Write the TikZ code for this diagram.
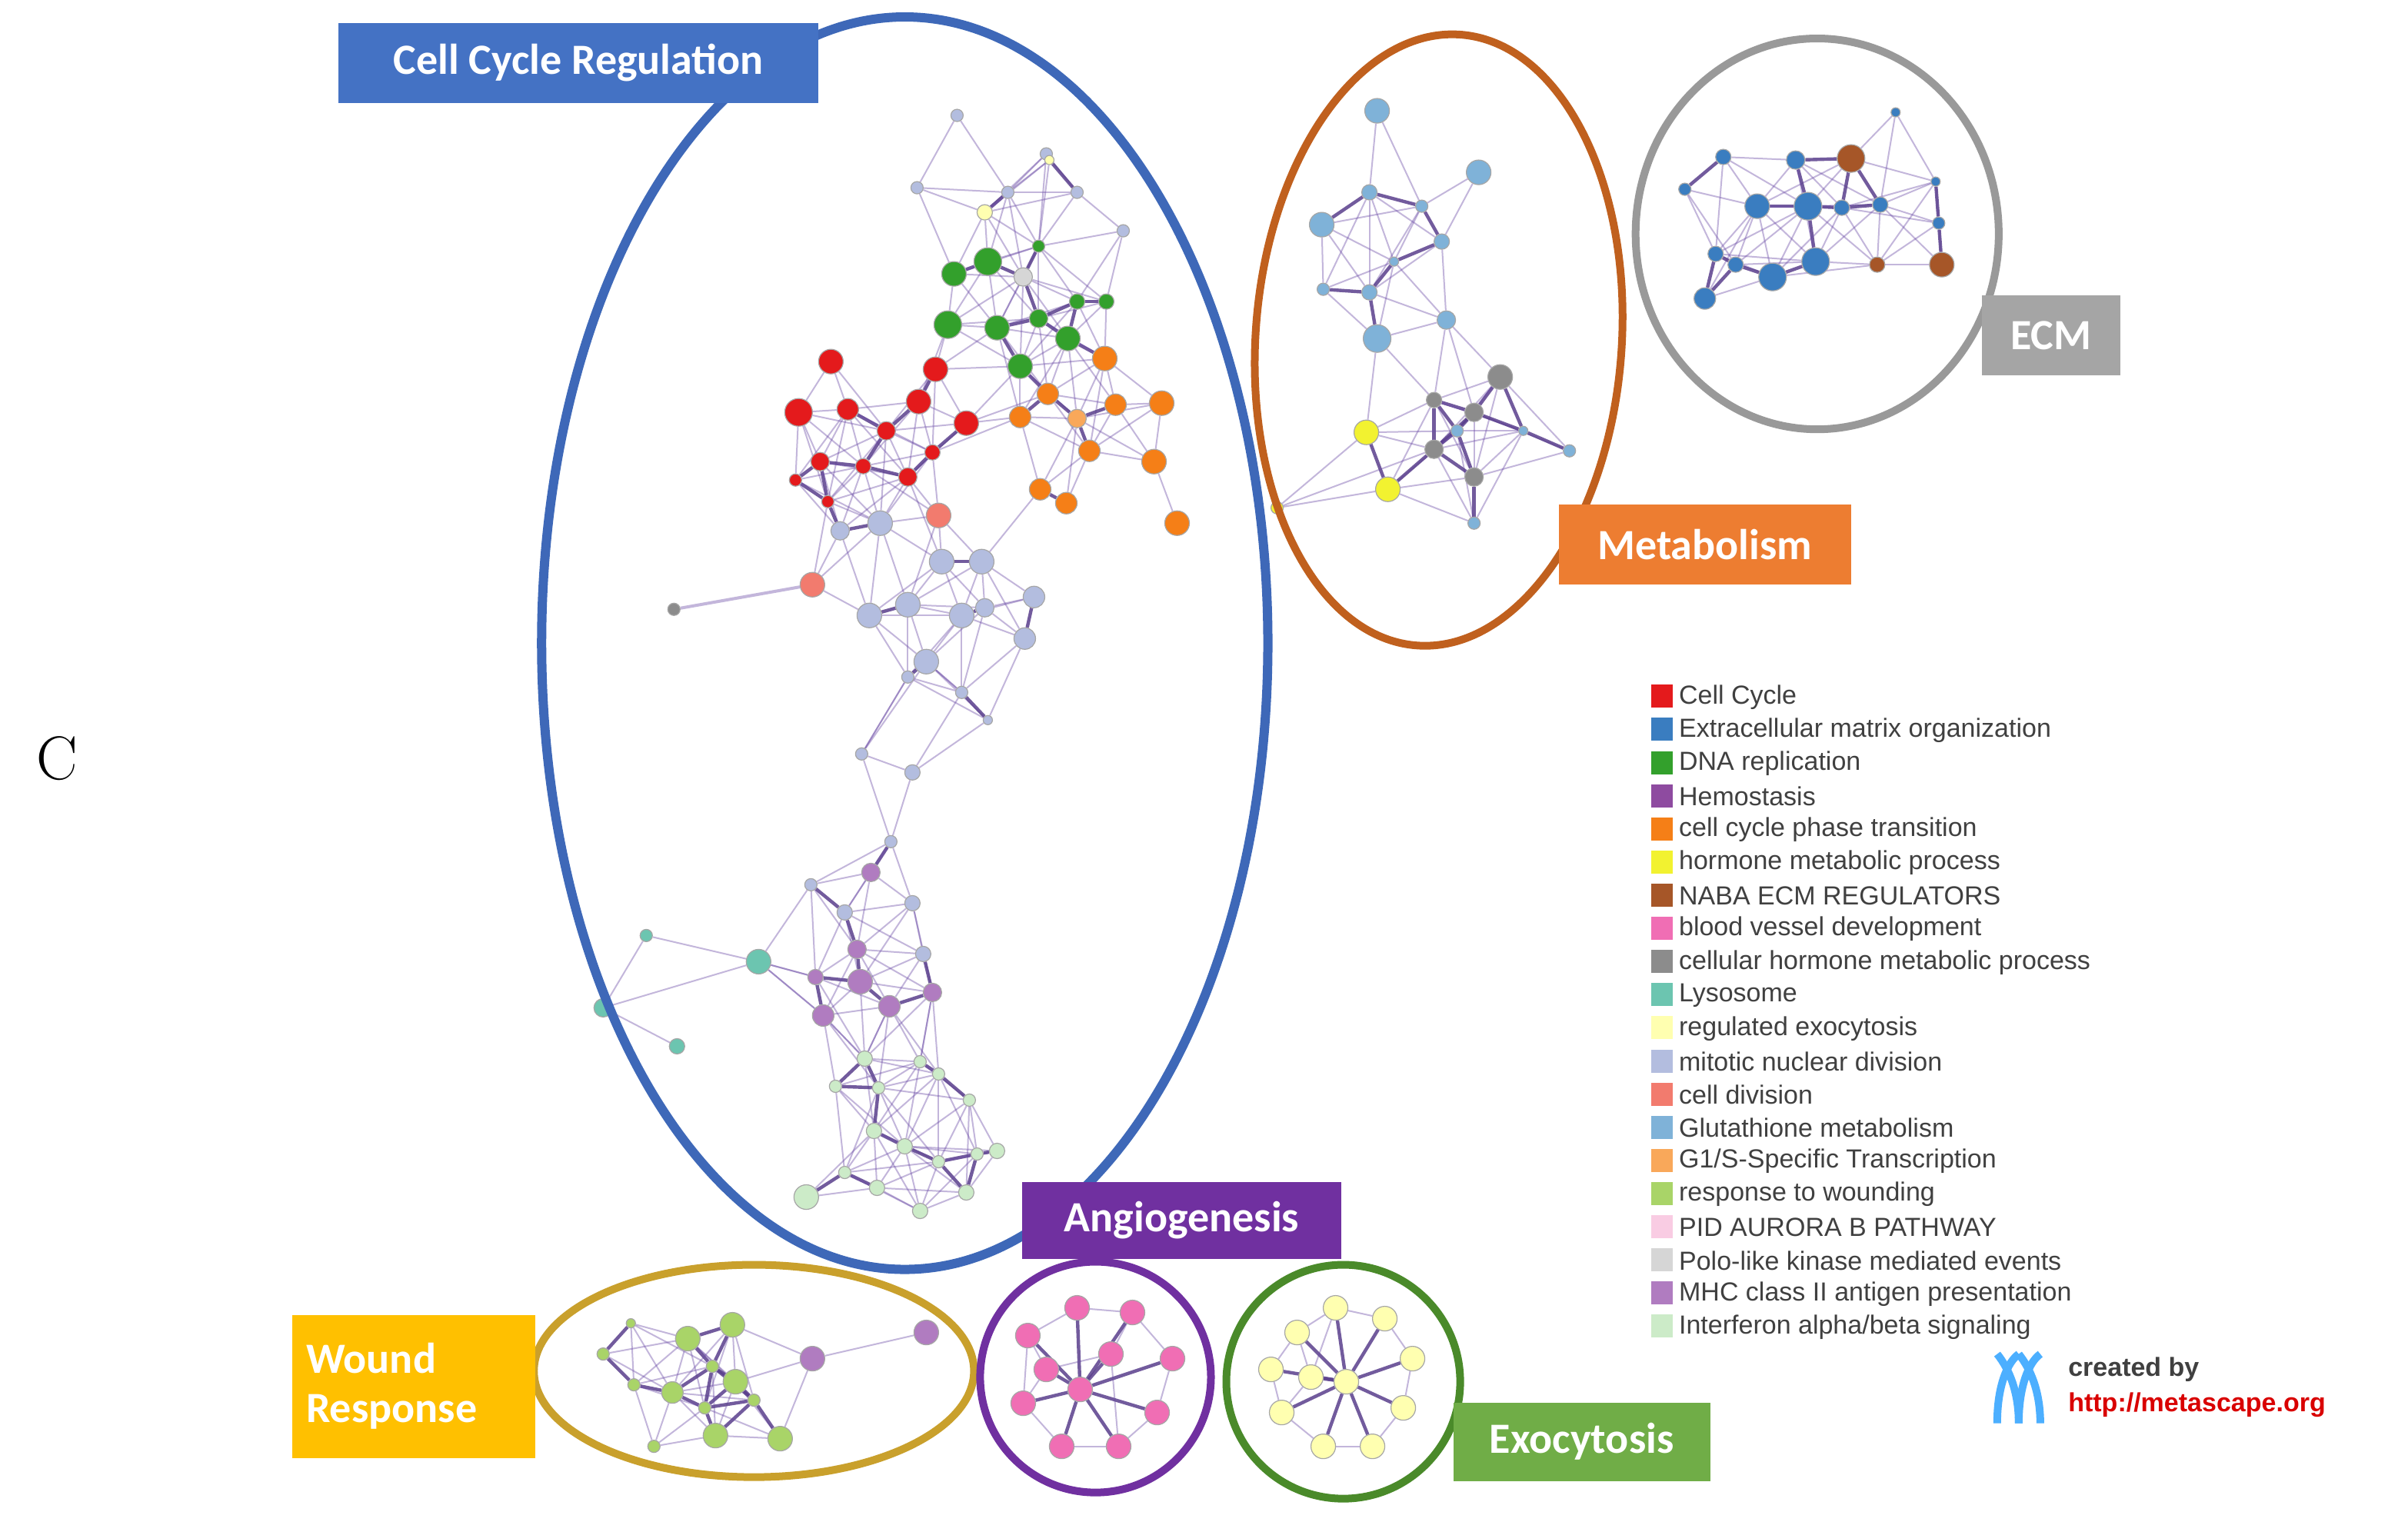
\documentclass[tikz,border=0pt]{standalone}
\usepackage{fontspec}
\newfontfamily\carl{Carlito}
\newfontfamily\lib{Liberation Sans}
\pgfdeclarelayer{bg}\pgfsetlayers{bg,main}
\definecolor{cA}{HTML}{E41A1C}\definecolor{cB}{HTML}{3A7DC0}\definecolor{cC}{HTML}{33A02C}
\definecolor{cD}{HTML}{8E4BA0}\definecolor{cE}{HTML}{F57F17}\definecolor{cF}{HTML}{F2F230}
\definecolor{cG}{HTML}{A65628}\definecolor{cH}{HTML}{F06EB4}\definecolor{cI}{HTML}{8C8C8C}
\definecolor{cJ}{HTML}{6CC5B0}\definecolor{cK}{HTML}{FFFFB0}\definecolor{cL}{HTML}{B3BDDF}
\definecolor{cM}{HTML}{F27B6E}\definecolor{cN}{HTML}{7FB2D8}\definecolor{cO}{HTML}{F9A85A}
\definecolor{cP}{HTML}{A9D468}\definecolor{cQ}{HTML}{F9CCE3}\definecolor{cR}{HTML}{D6D6D6}
\definecolor{cS}{HTML}{B07CC0}\definecolor{cT}{HTML}{CCEBC8}
\definecolor{eblue}{HTML}{3E68B8}\definecolor{eorange}{HTML}{C0601E}\definecolor{egold}{HTML}{C9A02C}
\definecolor{epurple}{HTML}{7030A0}\definecolor{egreen}{HTML}{4A8A2A}
\definecolor{lblue}{HTML}{4472C4}\definecolor{lorange}{HTML}{ED7D31}\definecolor{lgray}{HTML}{A5A5A5}
\definecolor{lgold}{HTML}{FFC000}\definecolor{lgreen}{HTML}{70AD47}\definecolor{edgec}{HTML}{6A4AA6}
\tikzset{
 nd/.style={circle,inner sep=0pt,draw=black!35,line width=0.6pt},
 grp/.style={line width=5pt},
 tag/.style={inner sep=0pt,text=white,font=\carl\bfseries\fontsize{28}{30}\selectfont,align=left},
 edg/.style={draw=edgec,line width=1pt,opacity=0.4},
 edgs/.style={draw=edgec!85!black,line width=2.2pt,opacity=0.85},
 leg/.style={anchor=west,inner sep=0pt,font=\lib\fontsize{17}{19}\selectfont,text=black!75},
}
\def\clA{a1/540/235/8/cA,a2/519/268/9/cA,a3/551/266/7/cA,a4/608/240/8/cA,a5/597/261/8/cA,a6/628/275/8/cA,a7/576/280/6/cA,a8/533/300/6/cA,a9/561/303/5/cA,a10/590/310/6/cA,a11/517/312/4/cA,a12/538/326/4/cA,a13/606/294/5/cA,
g1/642/170/9/cC,g2/620/178/8/cC,g3/616/211/9/cC,g4/648/213/8/cC,g5/663/238/8/cC,g6/694/220/8/cC,g7/675/207/6/cC,g8/700/196/5/cC,g9/719/196/5/cC,g10/665/180/6/cR,g11/675/160/4/cC,
o1/718/233/8/cE,o2/681/256/7/cE,o3/663/271/7/cE,o4/725/263/7/cE,o5/755/262/8/cE,o6/708/293/7/cE,o7/750/300/8/cE,o8/676/318/7/cE,o9/693/327/7/cE,o10/765/340/8/cE,o11/700/272/6/cO,
m1/572/340/8/cL,m2/638/365/8/cL,m3/612/365/8/cL,m4/565/400/8/cL,m5/590/393/8/cL,m6/625/400/8/cL,m7/672/388/7/cL,m8/666/415/7/cL,m9/602/430/8/cL,m10/640/395/6/cL,m11/546/345/6/cL,m12/625/450/4/cL,m13/642/468/3/cL,m14/590/440/4/cL,
s1/610/335/8/cM,s2/528/380/8/cM,
t1/622/75/4/cL,t2/596/122/4/cL,t3/680/100/4/cL,t4/700/125/4/cL,t5/655/125/4/cL,t6/640/138/5/cK,t7/730/150/4/cL,t8/682/104/3/cK,
h1/560/490/4/cL,h2/593/502/5/cL,h3/579/547/4/cL,h4/566/567/6/cS,h5/527/575/4/cL,h6/593/587/5/cL,h7/549/593/5/cL,h8/530/635/5/cS,h9/600/620/5/cL,h10/557/617/6/cS,h11/559/638/8/cS,h12/578/654/7/cS,h13/535/660/7/cS,h14/606/645/6/cS,
i1/562/688/5/cT,i2/598/690/4/cT,i3/543/706/4/cT,i4/571/707/4/cT,i5/610/698/4/cT,i6/630/715/4/cT,i7/568/735/5/cT,i8/588/745/5/cT,i9/610/755/4/cT,i10/635/750/4/cT,i11/648/748/5/cT,i12/549/762/4/cT,i13/570/772/5/cT,i14/598/787/5/cT,i15/628/775/5/cT,i16/524/778/8/cT,
y1/420/608/4/cJ,y2/493/625/8/cJ,y3/392/655/6/cJ,y4/440/680/5/cJ}
\def\clB{b1/895/72/8/cN,b2/961/112/8/cN,b3/859/146/8/cN,b4/890/125/5/cN,b5/924/134/4/cN,b6/937/157/5/cN,b7/906/170/3/cN,b8/860/188/4/cN,b9/890/190/5/cN,b10/940/208/6/cN,b11/895/220/9/cN,b12/975/245/8/cI,b13/932/260/5/cI,b14/958/268/6/cI,b15/947/280/4/cN,b16/932/292/6/cI,b17/958/310/6/cI,b18/1020/293/4/cN,b19/888/281/8/cF,b20/902/318/8/cF,b21/958/340/4/cN,b22/990/280/3/cN}
\def\clC{e1/1120/102/5/cB,e2/1142/134/8/cB,e3/1175/134/9/cB,e4/1167/104/6/cB,e5/1203/103/9/cG,e6/1232/73/3/cB,e7/1095/123/4/cB,e8/1115/165/5/cB,e9/1152/180/9/cB,e10/1180/170/9/cB,e11/1128/172/5/cB,e12/1108/194/7/cB,e13/1197/135/5/cB,e14/1222/133/5/cB,e15/1220/172/5/cG,e16/1262/172/8/cG,e17/1258/118/3/cB,e18/1260/145/4/cB}
\def\clD{w1/392/880/4/cP,w2/447/870/8/cP,w3/476/861/8/cP,w4/437/905/7/cP,w5/478/898/8/cP,w6/465/933/8/cP,w7/507/935/8/cP,w8/425/940/4/cP,w9/410/860/3/cP,w10/463/888/4/cP,w11/412/900/4/cP,w12/458/915/4/cP,w13/490/910/4/cP}
\def\clE{p0/702/903/8/cH,p1/668/868/8/cH,p2/700/850/8/cH,p3/736/853/8/cH,p4/762/883/8/cH,p5/752/918/8/cH,p6/727/940/8/cH,p7/690/940/8/cH,p8/665/912/8/cH,p9/680/890/8/cH,p10/722/880/8/cH}
\def\clF{x0/875/898/8/cK,x1/843/866/8/cK,x2/868/850/8/cK,x3/900/857/8/cK,x4/918/883/8/cK,x5/912/915/8/cK,x6/892/940/8/cK,x7/860/940/8/cK,x8/833/918/8/cK,x9/826/890/8/cK,x10/852/895/8/cK}
\newcommand\mknodes[1]{\foreach \n/\x/\y/\r/\c in #1 {\node[nd,fill=\c,minimum size=2*\r pt] (\n) at (\x,\y) {};}}
\newcommand\mkedges[3]{\foreach \na/\xa/\ya/\ra/\ca [count=\i] in #1 {\foreach \nb/\xb/\yb/\rb/\cb [count=\j] in #1 {%
 \ifnum\j>\i \pgfmathsetmacro\dd{veclen(\xa-\xb,\ya-\yb)}%
 \ifdim\dd pt<#2pt \ifdim\dd pt<#3pt \draw[edgs] (\na)--(\nb); \else \draw[edg] (\na)--(\nb);\fi\fi\fi}}}
\begin{document}
\begin{tikzpicture}[x=1pt,y=-1pt]
\useasboundingbox (0,0) rectangle (1565,989);
\mknodes{\clA}\mknodes{\clB}\mknodes{\clC}\mknodes{\clD}\mknodes{\clE}\mknodes{\clF}
\node[nd,fill=cI,minimum size=8pt] (q1) at (438,396) {};
\node[nd,fill=cS,minimum size=16pt] (w14) at (528,883) {};
\node[nd,fill=cS,minimum size=16pt] (w15) at (602,866) {};
\node[nd,fill=cF,minimum size=8pt] (b23) at (830,330) {};
\begin{pgfonlayer}{bg}
\fill[white] (0,0) rectangle (1565,989);
\mkedges{\clA}{62}{30}\mkedges{\clB}{70}{40}\mkedges{\clC}{70}{38}\mkedges{\clD}{60}{35}
\foreach \k in {1,...,10}{\draw[edgs] (p0)--(p\k); \draw[edgs] (x0)--(x\k);}
\foreach \a/\b in {p1/p2,p2/p3,p3/p4,p4/p5,p5/p6,p6/p7,p7/p8,p8/p1,p9/p10,p1/p9,p3/p10,p6/p10,p8/p9,
 x1/x2,x2/x3,x3/x4,x4/x5,x5/x6,x6/x7,x7/x8,x8/x9,x9/x1,x10/x1,x10/x8,x2/x10}{\draw[edg] (\a)--(\b);}
\draw[edg,line width=2pt] (q1)--(s2);
\draw[edg] (w14)--(w15); \draw[edg] (w14)--(w7); \draw[edg] (w14)--(w5); \draw[edg] (w14)--(w3);
\draw[edg] (b23)--(b19); \draw[edg] (b23)--(b20); \draw[edg] (b23)--(b16);
\draw[edg] (h1)--(m14); \draw[edg] (h1)--(m9); \draw[edg] (m12)--(m9);
\draw[edg] (y2)--(h8); \draw[edg] (y2)--(h13); \draw[edg] (y1)--(y2);\draw[edg] (y3)--(y2);
\draw[edg] (i1)--(h13); \draw[edg] (i1)--(h12); \draw[edg] (i2)--(h14);
\end{pgfonlayer}
% group outlines
\draw[grp,eblue,line width=6pt] (588,418) ellipse [x radius=236,y radius=407];
\draw[grp,eorange,rotate around={-4:(935,221)}] (935,221) ellipse [x radius=119,y radius=199];
\draw[grp,gray!80] (1181,152) ellipse [x radius=118,y radius=127];
\draw[grp,egold] (490,891) ellipse [x radius=143,y radius=69];
\draw[grp,epurple] (712,895) circle [radius=75];
\draw[grp,egreen] (873,898) circle [radius=76];
% labels
\node[tag,fill=lblue,minimum width=312pt,minimum height=52pt] (L1) at (376,41) {Cell Cycle Regulation};
\node[tag,fill=lorange,minimum width=190pt,minimum height=52pt] (L2) at (1108,354) {Metabolism};
\node[tag,fill=lgray,minimum width=90pt,minimum height=52pt] (L3) at (1333,218) {ECM};
\node[tag,fill=lgold,minimum width=158pt,minimum height=93pt,text width=140pt] (L4) at (269,901) {Wound\\[2pt]Response};
\node[tag,fill=epurple,minimum width=207pt,minimum height=50pt] (L5) at (768,793) {Angiogenesis};
\node[tag,fill=lgreen,minimum width=167pt,minimum height=51pt] (L6) at (1028,937) {Exocytosis};
\node[font=\fontsize{40}{44}\selectfont] (C) at (37,493) {C};
% legend
\foreach \t/\c [count=\k from 0] in {{Cell Cycle}/cA,{Extracellular matrix organization}/cB,{DNA replication}/cC,{Hemostasis}/cD,{cell cycle phase transition}/cE,{hormone metabolic process}/cF,{NABA ECM REGULATORS}/cG,{blood vessel development}/cH,{cellular hormone metabolic process}/cI,{Lysosome}/cJ,{regulated exocytosis}/cK,{mitotic nuclear division}/cL,{cell division}/cM,{Glutathione metabolism}/cN,{G1/S-Specific Transcription}/cO,{response to wounding}/cP,{PID AURORA B PATHWAY}/cQ,{Polo-like kinase mediated events}/cR,{MHC class II antigen presentation}/cS,{Interferon alpha/beta signaling}/cT}{
 \fill[\c] (1073,445+21.55*\k) rectangle ++(14,15);
 \node[leg] (lg\k) at (1091,453+21.55*\k) {\t};}
% metascape logo
\foreach \dx in {0,14}{\draw[line width=5pt,blue!45!cyan!70!white] (1298+\dx,925) .. controls (1298+\dx,900) and (1305+\dx,885) .. (1312+\dx,880);
 \draw[line width=5pt,blue!45!cyan!70!white] (1326+\dx-14,925) .. controls (1326+\dx-14,905) and (1320+\dx-14,890) .. (1312+\dx-14,880);}
\node[anchor=west,inner sep=0pt,font=\lib\bfseries\fontsize{17}{19}\selectfont,text=black!75] (cb) at (1344,890) {created by};
\node[anchor=west,inner sep=0pt,font=\lib\bfseries\fontsize{17}{19}\selectfont,text=red!85!black] (url) at (1344,913) {http://metascape.org};
\end{tikzpicture}
\end{document}
